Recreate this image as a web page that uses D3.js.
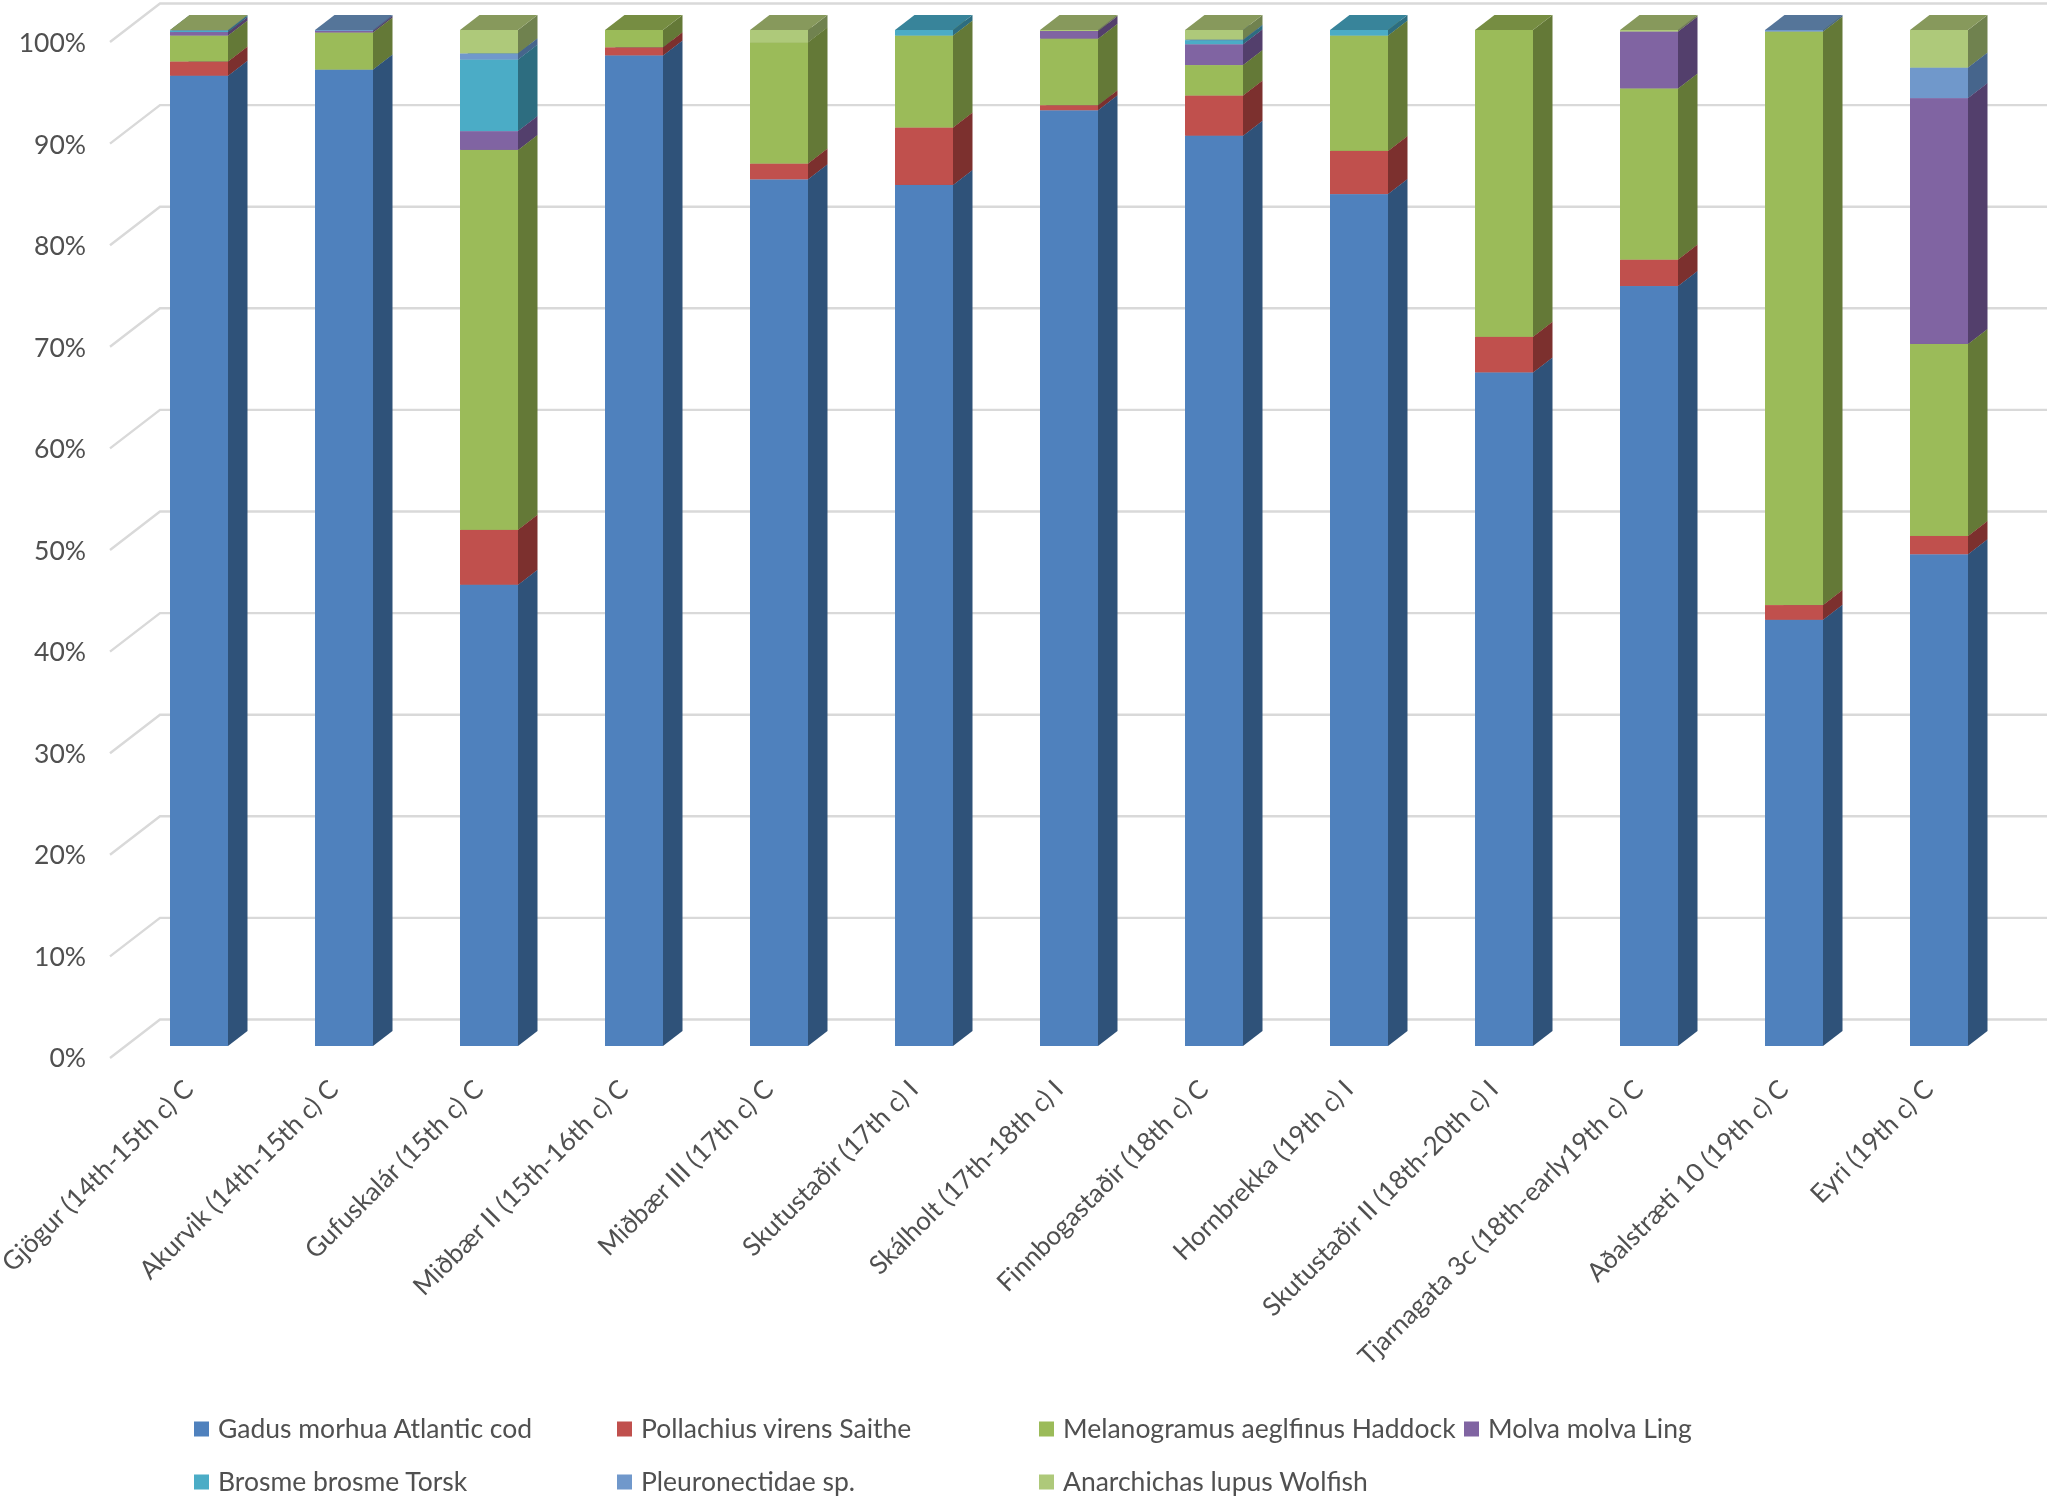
<!DOCTYPE html>
<html><head><meta charset="utf-8">
<style>html,body{margin:0;padding:0;background:#fff}svg{display:block;filter:blur(0.6px)}text{font-family:Lato,"Open Sans",sans-serif;fill:#505050}</style>
<script src="https://d3js.org/d3.v7.min.js"></script></head><body>
<svg id="c" width="2050" height="1497"></svg>
<script>
const categories=["Gjögur (14th-15th c) C","Akurvik (14th-15th c) C","Gufuskalár (15th c) C","Miðbær II (15th-16th c) C","Miðbær III (17th c) C","Skutustaðir (17th c) I","Skálholt (17th-18th c) I","Finnbogastaðir (18th c) C","Hornbrekka (19th c) I","Skutustaðir II (18th-20th c) I","Tjarnagata 3c (18th-early19th c) C","Aðalstræti 10 (19th c) C","Eyri (19th c) C"];
const seriesNames=["Gadus morhua Atlantic cod","Pollachius virens Saithe","Melanogramus aeglfinus Haddock","Molva molva Ling","Brosme brosme Torsk","Pleuronectidae sp.","Anarchichas lupus Wolfish"];
const cod=[95.5,96.1,45.4,97.5,85.3,84.75,92.1,89.6,83.85,66.3,74.8,41.95,48.4];
const saithe=[1.4,0,5.4,0.8,1.55,5.65,0.5,3.95,4.25,3.5,2.6,1.45,1.8];
const haddock=[2.55,3.65,37.4,1.7,11.95,9.05,6.55,3.0,11.35,30.2,16.85,56.45,18.9];
const ling=[0.35,0.15,1.85,0,0,0,0.75,2.05,0,0,5.6,0,24.2];
const torsk=[0.15,0,7.05,0,0,0.55,0,0.4,0.55,0,0,0,0];
const pleuro=[0.03,0.1,0.6,0,0,0,0,0.05,0,0,0,0.15,3.0];
const wolffish=[0.02,0,2.3,0,1.2,0,0.1,0.95,0,0,0.15,0,3.7];
const yTicks=[0,10,20,30,40,50,60,70,80,90,100];
const frontColors=["#4F81BD","#C0504D","#9BBB59","#8064A2","#4BACC6","#7098CB","#AEC97A"];
const sideColors=["#2F5279","#7C302E","#647937","#533F6C","#2D6D80","#46658C","#70824F"];
const topColors=["#3F6A9C","#A04340","#768D42","#685186","#38849A","#557599","#87995C"];

const svg=d3.select("#c");
const depthX=19.5,depthY=15,wallDy=26.5,wallBackX=160,wallFrontX=110,wallFrontDy=12,wallRight=2047;
const x=d3.scaleBand().domain(categories).range([170,1968]).paddingInner(0.6).paddingOuter(0);
const y=d3.scaleLinear().domain([0,100]).range([1046,30]);
const yLabel=d3.scaleLinear().domain([0,100]).range([1067,52]);
const values=[cod,saithe,haddock,ling,torsk,pleuro,wolffish];

const grid=svg.append("g").attr("fill","none").attr("stroke","#D9D9D9").attr("stroke-width",2.4);
yTicks.forEach(t=>{
  const yy=y(t);
  grid.append("path").attr("d",`M${wallFrontX},${yy+wallFrontDy}L${wallBackX},${yy-wallDy}L${wallRight},${yy-wallDy}`);
});
svg.append("g").selectAll("text").data(yTicks).join("text")
  .attr("x",86).attr("y",t=>yLabel(t)).attr("text-anchor","end")
  .attr("font-size",26.5).text(t=>t+"%");

const poly=pts=>pts.map(p=>p.join(",")).join(" ");
const bars=svg.append("g");
categories.forEach((c,i)=>{
  const g=bars.append("g");
  const x0=x(c),x1=x0+x.bandwidth();
  let acc=0;
  values.forEach((arr,s)=>{
    const v=arr[i];
    if(!v) return;
    const yb=y(acc),yt=y(acc+v);
    acc+=v;
    g.append("polygon").attr("points",poly([[x1,yb],[x1+depthX,yb-depthY],[x1+depthX,yt-depthY],[x1,yt]])).attr("fill",sideColors[s]);
    g.append("polygon").attr("points",poly([[x0,yt],[x1,yt],[x1+depthX,yt-depthY],[x0+depthX,yt-depthY]])).attr("fill",topColors[s]);
    g.append("rect").attr("x",x0).attr("y",yt).attr("width",x.bandwidth()).attr("height",yb-yt).attr("fill",frontColors[s]);
  });
});

svg.append("g").selectAll("text").data(categories).join("text")
  .attr("text-anchor","end").attr("font-size",26)
  .attr("transform",c=>`translate(${x(c)+x.bandwidth()/2-4},${1091}) rotate(-45)`)
  .text(c=>c);

const legendCols=[194,617,1039,1464],legendRows=[1429,1482];
const lg=svg.append("g");
seriesNames.forEach((n,i)=>{
  const cx=legendCols[i%4],cy=legendRows[Math.floor(i/4)];
  lg.append("rect").attr("x",cx).attr("y",cy-7.5).attr("width",15).attr("height",15).attr("fill",frontColors[i]);
  lg.append("text").attr("x",cx+24).attr("y",cy+9).attr("font-size",26.5).text(n);
});
</script></body></html>
